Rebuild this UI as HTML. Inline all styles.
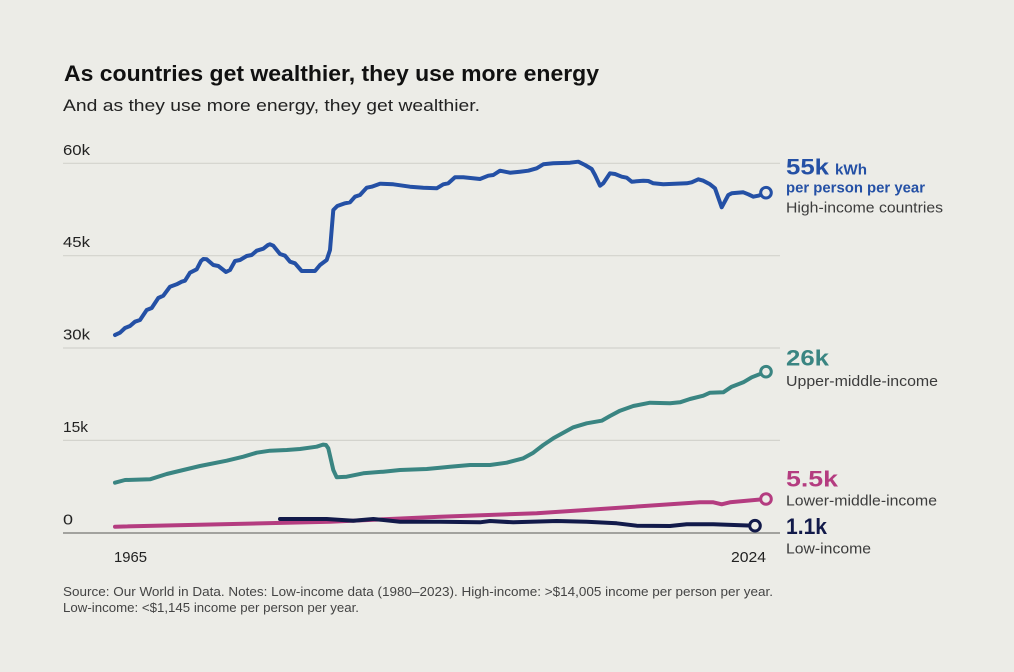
<!DOCTYPE html>
<html>
<head>
<meta charset="utf-8">
<style>
  html,body{margin:0;padding:0;background:#ececE7;}
  body{width:1014px;height:672px;overflow:hidden;}
  svg{display:block;font-family:"Liberation Sans",Arial,sans-serif;}
</style>
</head>
<body>
<svg width="1014" height="672" viewBox="0 0 1014 672" xmlns="http://www.w3.org/2000/svg">
  <rect x="0" y="0" width="1014" height="672" fill="#ececE7"/>

  <!-- Title -->
  <text x="64" y="81" font-size="22" font-weight="bold" fill="#111" textLength="535" lengthAdjust="spacingAndGlyphs">As countries get wealthier, they use more energy</text>
  <text x="63" y="111" font-size="17" fill="#222" textLength="417" lengthAdjust="spacingAndGlyphs">And as they use more energy, they get wealthier.</text>

  <!-- Gridlines -->
  <g stroke="#d3d3cd" stroke-width="1.2">
    <line x1="63" y1="163.3" x2="780" y2="163.3"/>
    <line x1="63" y1="255.7" x2="780" y2="255.7"/>
    <line x1="63" y1="348" x2="780" y2="348"/>
    <line x1="63" y1="440.4" x2="780" y2="440.4"/>
  </g>
  <line x1="63" y1="533" x2="780" y2="533" stroke="#8a8a86" stroke-width="1.5"/>

  <!-- Y labels -->
  <g font-size="15" fill="#222">
    <text x="63" y="155" textLength="27" lengthAdjust="spacingAndGlyphs">60k</text>
    <text x="63" y="247" textLength="27" lengthAdjust="spacingAndGlyphs">45k</text>
    <text x="63" y="339.5" textLength="27" lengthAdjust="spacingAndGlyphs">30k</text>
    <text x="63" y="432" textLength="25" lengthAdjust="spacingAndGlyphs">15k</text>
    <text x="63" y="524.5" textLength="10" lengthAdjust="spacingAndGlyphs">0</text>
  </g>

  <!-- X labels -->
  <g font-size="15" fill="#222">
    <text x="114" y="562" textLength="33" lengthAdjust="spacingAndGlyphs">1965</text>
    <text x="731" y="562" textLength="35" lengthAdjust="spacingAndGlyphs">2024</text>
  </g>

  <!-- Series -->
  <g fill="none" stroke-width="4" stroke-linejoin="round" stroke-linecap="round">
    <polyline stroke="#3a8582" points="115,482.7 125,480 150,479.3 166.7,474 183.3,470 200,466 226.7,460.7 243.3,456.7 256.7,452.7 270,450.7 286.7,450 300,449 316.7,446.7 323,444.6 326,445 328.3,448.3 333.3,470 336.7,477.3 346.7,476.7 363.3,473.3 383.3,471.7 400,470 426.7,469 440,467.7 450,466.7 470,465 490,465 506.7,462.7 523.3,458.3 533.3,452.7 543.3,445 553.3,438.3 563.3,432.7 573.3,427.3 586.7,423.3 601.7,420.7 610,416 620,410.7 633.3,406 650,402.7 670,403.3 680,402.3 690,399 703.3,395.7 710,392.7 723.3,392.3 731.7,386.7 743.3,382.3 751.7,377.3 766,371.7"/>
    <polyline stroke="#b43c80" points="115,526.7 330,521.7 440,516.7 536.7,513.3 700,502.3 713.3,502.3 721.7,504.3 730,502.3 766,499"/>
    <polyline stroke="#121a4a" points="280,519 326.7,519 353.3,520.7 373.3,519 400,521.7 440,521.7 480,522.3 490,521 513.3,522.3 556.7,521 586.7,521.7 616.7,523.3 636.7,525.7 670,526 686.7,524.3 713.3,524.3 755,525.7"/>
    <polyline stroke="#2450a5" points="115,335 120,332.7 125,328 130,326 135,321.7 140,320 146.7,310 151.7,308 158.3,298 163.3,295.7 170,286.7 176.7,284.3 181.7,281.7 185,280.7 190,272.7 196.7,269.3 201,261 203.3,259 206.7,259.3 213.3,265 218.3,266 226,272 230,270 235,261 240,260 246.7,256 251.7,255 256.7,250.7 263.3,248.7 268,245 270,244.3 273.3,245.7 280,254 285,255.7 290,261.7 295,263.3 301.7,271 315,271 320,265 326.7,260 330,250 333.3,210 337.3,206 345,203.3 350,202.3 355,196.7 360,195 366.7,187.7 371.7,186.7 380,183.7 393.3,184.3 410,186.7 423.3,187.7 436.7,188.3 443.3,184.3 448.3,183.3 455,177.3 463.3,177.3 480,179 488.3,175.7 493.3,175 500,170.7 510,172.7 520,171.7 528.3,170.7 536.7,168.3 543.3,164.3 553.3,163.3 570,162.7 578.3,161.7 585,165 591.7,169 595,175 600,185.7 603.3,183.3 610,173.3 615,174 621.7,176.7 626.7,177.7 631.7,181.7 643.3,180.7 648.3,181 653.3,183.3 663.3,184.3 686.7,183.3 691.7,182.3 698.3,179.3 703.3,180.7 710,184.3 715,188.3 721.7,207.3 728.3,195 731.7,193.3 743.3,192.3 748.3,194.3 753.3,196.7 758.3,195.7 766,192.7"/>
  </g>

  <!-- End markers -->
  <g fill="#ececE7" stroke-width="3">
    <circle cx="766" cy="371.7" r="5.3" stroke="#3a8582"/>
    <circle cx="766" cy="499" r="5.3" stroke="#b43c80"/>
    <circle cx="755" cy="525.7" r="5.3" stroke="#121a4a"/>
    <circle cx="766" cy="192.7" r="5.3" stroke="#2450a5"/>
  </g>

  <!-- Right labels -->
  <text x="786" y="174.3" font-size="22" font-weight="bold" fill="#2450a5" textLength="43" lengthAdjust="spacingAndGlyphs">55k</text>
  <text x="835" y="174.3" font-size="14.5" font-weight="bold" fill="#2450a5" textLength="32" lengthAdjust="spacingAndGlyphs">kWh</text>
  <text x="786" y="192.5" font-size="14.5" font-weight="bold" fill="#2450a5" textLength="139" lengthAdjust="spacingAndGlyphs">per person per year</text>
  <text x="786" y="212.7" font-size="15" fill="#3c3c3c" textLength="157" lengthAdjust="spacingAndGlyphs">High-income countries</text>

  <text x="786" y="365.7" font-size="22" font-weight="bold" fill="#3a8582" textLength="43" lengthAdjust="spacingAndGlyphs">26k</text>
  <text x="786" y="386" font-size="15" fill="#3c3c3c" textLength="152" lengthAdjust="spacingAndGlyphs">Upper-middle-income</text>

  <text x="786" y="486.7" font-size="22" font-weight="bold" fill="#b43c80" textLength="52" lengthAdjust="spacingAndGlyphs">5.5k</text>
  <text x="786" y="505.7" font-size="15" fill="#3c3c3c" textLength="151" lengthAdjust="spacingAndGlyphs">Lower-middle-income</text>

  <text x="786" y="534" font-size="22" font-weight="bold" fill="#121a4a" textLength="41" lengthAdjust="spacingAndGlyphs">1.1k</text>
  <text x="786" y="553.3" font-size="15" fill="#3c3c3c" textLength="85" lengthAdjust="spacingAndGlyphs">Low-income</text>

  <!-- Footnote -->
  <g font-size="12.5" fill="#444">
    <text x="63" y="596" textLength="710" lengthAdjust="spacingAndGlyphs">Source: Our World in Data. Notes: Low-income data (1980–2023). High-income: &gt;$14,005 income per person per year.</text>
    <text x="63" y="612" textLength="296" lengthAdjust="spacingAndGlyphs">Low-income: &lt;$1,145 income per person per year.</text>
  </g>
</svg>
</body>
</html>
